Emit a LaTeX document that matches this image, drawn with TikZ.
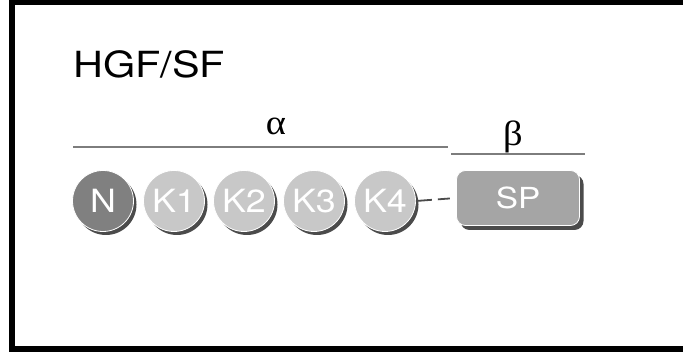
\documentclass[tikz,border=0pt]{standalone}
\usepackage{fontspec}
\setmainfont{TeX Gyre Heros}
\newfontfamily\greekfont{Liberation Serif}
\usetikzlibrary{shadows}
\definecolor{domN}{RGB}{128,128,128}
\definecolor{domK}{RGB}{200,200,200}
\definecolor{domSP}{RGB}{165,165,165}
\definecolor{rulegray}{RGB}{125,125,125}
\definecolor{shade}{RGB}{75,75,75}
\tikzset{
  kringle/.style={circle, minimum size=61pt, inner sep=0pt, draw=white, line width=0.8pt,
    drop shadow={shadow xshift=3pt, shadow yshift=-3.5pt, fill=shade, opacity=1},
    text=white, font=\fontsize{32}{32}\selectfont},
  protease/.style={rectangle, rounded corners=9pt, minimum width=123pt, minimum height=55pt,
    inner sep=0pt, draw=white, line width=0.8pt, fill=domSP,
    drop shadow={shadow xshift=4pt, shadow yshift=-4.5pt, fill=shade, opacity=1},
    text=white, font=\fontsize{29}{29}\selectfont},
  chainrule/.style={draw=rulegray, line width=1.8pt},
  chainlabel/.style={font=\greekfont\fontsize{35}{35}\selectfont, inner sep=0pt, xscale=1.1},
  linker/.style={draw=shade, line width=1.8pt, dash pattern=on 16pt off 6pt on 12pt off 20pt}
}
\begin{document}
\begin{tikzpicture}[x=1pt, y=-1pt]
  \useasboundingbox (0,0) rectangle (683,355);
  \fill[white] (0,0) rectangle (683,355);
  % frame open on the right
  \draw[line width=5.5pt] (690,2.5) -- (12,2.5) -- (12,349) -- (690,349);

  % title
  \node[anchor=base west, inner sep=0pt, xscale=1.15, font=\fontsize{36}{36}\selectfont] (title) at (73,78) {HGF/SF};

  % chain brackets
  \coordinate (alphaL) at (73,147);
  \coordinate (alphaR) at (448,147);
  \coordinate (betaL) at (451,154);
  \coordinate (betaR) at (585,154);
  \draw[chainrule] (alphaL) -- (alphaR);
  \draw[chainrule] (betaL) -- (betaR);
  \node[chainlabel, anchor=base] (alpha) at (276,135) {α};
  \node[chainlabel, anchor=base] (beta) at (513,146) {β};

  % domains
  \node[kringle, fill=domN] (N) at (103,201) {\scalebox{1.12}[1]{N}};
  \node[kringle, fill=domK] (K1) at (174,201) {\scalebox{1.12}[1]{K1}};
  \node[kringle, fill=domK] (K2) at (244,201) {\scalebox{1.12}[1]{K2}};
  \node[kringle, fill=domK] (K3) at (314,201) {\scalebox{1.12}[1]{K3}};
  \node[kringle, fill=domK] (K4) at (385,201) {\scalebox{1.12}[1]{K4}};
  \node[protease] (SP) at (518,198) {\scalebox{1.15}[1]{SP}};

  % interchain linker
  \draw[linker] (K4.east) -- (SP.west);
\end{tikzpicture}
\end{document}
